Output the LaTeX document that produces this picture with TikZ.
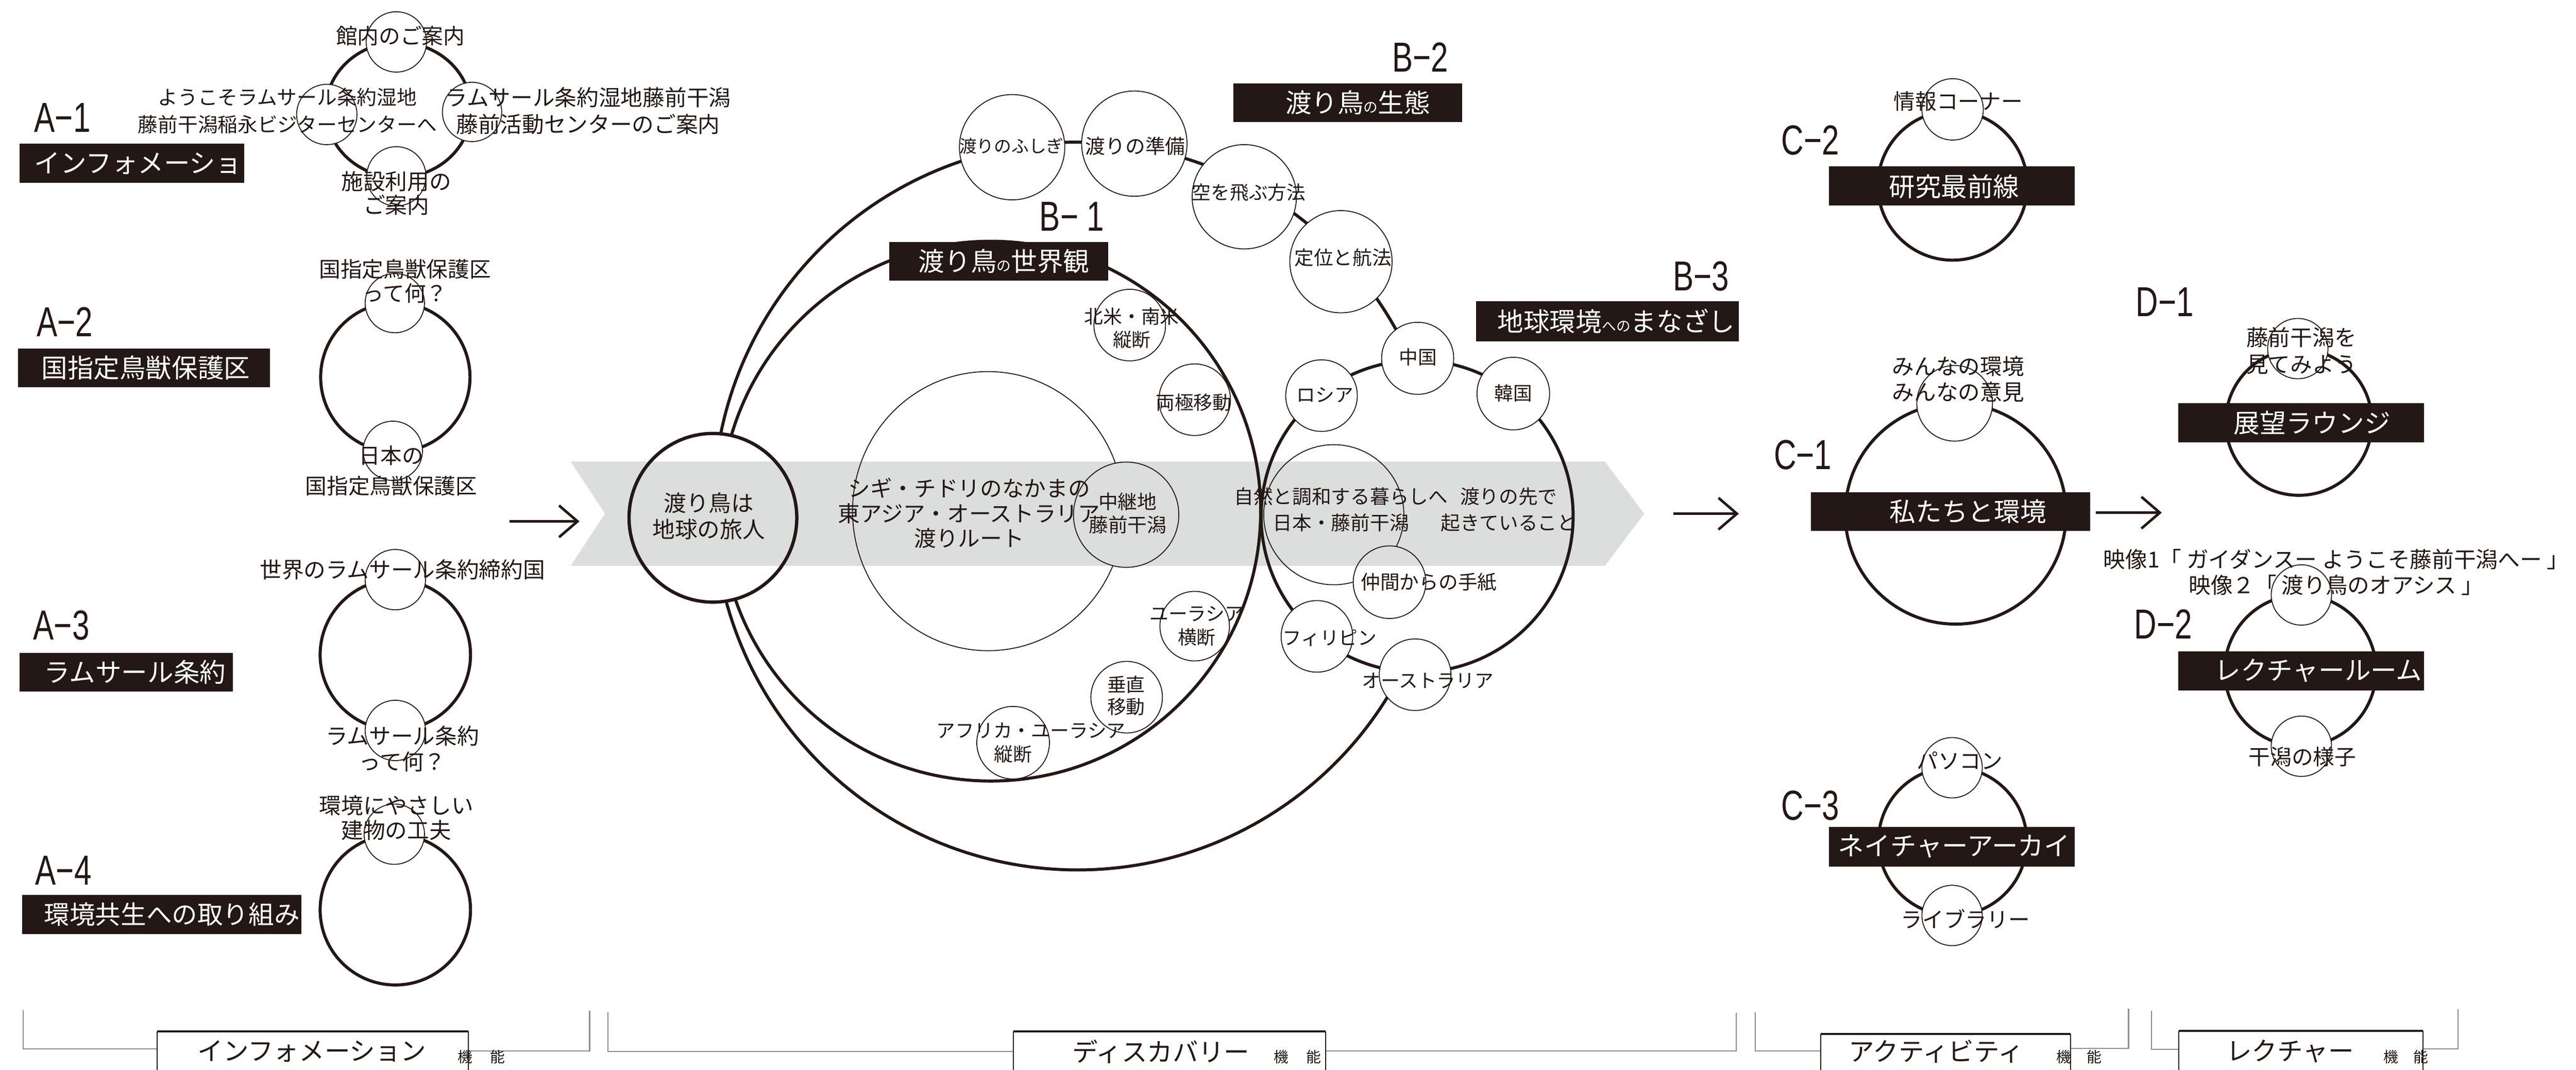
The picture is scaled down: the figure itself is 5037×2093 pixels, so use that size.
\documentclass[tikz,border=0pt]{standalone}
\usepackage{fontspec}
\setmainfont{Noto Sans CJK JP}
\newfontfamily\labelfont[FakeStretch=0.74]{Liberation Sans}
\usetikzlibrary{shapes.geometric,arrows.meta}
\definecolor{ink}{HTML}{231815}
\definecolor{bandgray}{HTML}{DCDDDD}
\definecolor{brkgray}{HTML}{8C8C8C}
\newcommand\jfs[2]{\fontsize{#1}{#2}\selectfont}
\newcommand\sno[1]{{\fontsize{28}{28}\selectfont #1}}
\tikzset{
  ring/.style={draw=ink, line width=6pt, inner sep=0pt, outer sep=0pt},
  ringline/.style={draw=ink, line width=6pt},
  sc/.style={circle, draw=ink, line width=1.8pt, fill=white, inner sep=0pt},
  thinc/.style={draw=ink, line width=1.8pt, inner sep=0pt},
  tx/.style={text=ink, align=center, inner sep=0pt},
  blk/.style={fill=ink, inner sep=0pt},
  wt/.style={text=white, font=\jfs{51}{51}, inner sep=0pt},
  lbl/.style={text=ink, font=\labelfont\fontsize{82}{82}\selectfont, inner sep=0pt},
  arr/.style={draw=ink, line width=5pt, -{Straight Barb[length=36pt,width=62pt]}},
  brk/.style={draw=brkgray, line width=2.2pt},
  fside/.style={draw=ink, line width=2pt},
  ftop/.style={draw=ink, line width=3.5pt},
}
\begin{document}
\begin{tikzpicture}[x=1pt,y=-1pt]
\useasboundingbox (0,0) rectangle (5037,2093);
\fill[white] (0,0) rectangle (5037,2093);

% ================= A column =================
\node[ring, ellipse, minimum width=284pt, minimum height=264pt] (ringA1) at (779,215) {};
\node[sc, minimum size=118pt] (cA1t) at (775,82) {};
\node[sc, minimum size=118pt] (cA1l) at (639,224) {};
\node[sc, minimum size=116pt] (cA1r) at (923,219) {};
\node[sc, minimum size=116pt] (cA1b) at (775,345) {};

\node[ring, circle, minimum size=292pt] (ringA2) at (773,738) {};
\node[sc, minimum size=116pt] (cA2t) at (772,593) {};
\node[sc, minimum size=116pt] (cA2b) at (768,882) {};

\node[ring, circle, minimum size=294pt] (ringA3) at (773,1281) {};
\node[sc, minimum size=118pt] (cA3t) at (773,1134) {};
\node[sc, minimum size=118pt] (cA3b) at (773,1429) {};

\node[ring, circle, minimum size=294pt] (ringA4) at (773,1780) {};
\node[sc, minimum size=118pt] (cA4t) at (771,1632) {};

\node[tx, font=\jfs{42}{50}] (tA1t) at (783,70) {館内のご案内};
\node[tx, font=\jfs{39}{53}] (tA1l) at (562,217) {ようこそラムサール条約湿地\\藤前干潟稲永ビジターセンターへ};
\node[tx, font=\jfs{43}{53}] (tA1r) at (1150,217) {ラムサール条約湿地藤前干潟\\藤前活動センターのご案内};
\node[tx, font=\jfs{43}{47}] (tA1b) at (775,378) {施設利用の\\ご案内};
\node[tx, font=\jfs{42}{47}] (tA2t) at (792,550) {国指定鳥獣保護区\\って何？};
\node[tx, font=\jfs{42}{60}] (tA2b) at (765,921) {日本の\\国指定鳥獣保護区};
\node[tx, font=\jfs{43}{50}] (tA3t) at (787,1115) {世界のラムサール条約締約国};
\node[tx, font=\jfs{43}{51}] (tA3b) at (787,1465) {ラムサール条約\\って何？};
\node[tx, font=\jfs{43}{49}] (tA4t) at (775,1600) {環境にやさしい\\建物の工夫};

\node[lbl] (lA1) at (122,230) {A−1};
\node[lbl] (lA2) at (127,630) {A−2};
\node[lbl] (lA3) at (120,1223) {A−3};
\node[lbl] (lA4) at (124,1703) {A−4};

\node[blk, minimum width=440pt, minimum height=77pt] (bA1) at (258,319.5) {};
\node[wt, anchor=west] (wA1) at (67,320) {インフォメーショ};
\node[blk, minimum width=493pt, minimum height=76pt] (bA2) at (281.5,720) {};
\node[wt] (wA2) at (285,720) {国指定鳥獣保護区};
\node[blk, minimum width=417pt, minimum height=76pt] (bA3) at (246.5,1315) {};
\node[wt, anchor=west] (wA3) at (86,1315) {ラムサール条約};
\node[blk, minimum width=546pt, minimum height=76pt] (bA4) at (316,1789) {};
\node[wt, anchor=west, font=\jfs{50}{50}] (wA4) at (86,1789) {環境共生への取り組み};

% ================= B section =================
\path[fill=bandgray] (1116,903) -- (3138,903) -- (3215,1005) -- (3138,1107) -- (1116,1107) -- (1183,1005) -- cycle;

\node[thinc, ellipse, minimum width=530pt, minimum height=546pt] (route) at (1932,1000) {};
\node[ring, circle, minimum size=1056pt] (ringB1) at (1937,1000) {};
\draw[ringline] plot[domain=26:337, samples=240] ({2107+712*cos(\x)},{990+712*sin(\x)});
\node[ring, circle, minimum size=610pt] (ringB3) at (2771,1010) {};

% traveller ellipse (masks rings, keeps band)
\fill[white] (1394,1013) ellipse [x radius=164, y radius=165];
\begin{scope}
  \clip (1394,1013) ellipse [x radius=164, y radius=165];
  \path[fill=bandgray] (1116,903) -- (3138,903) -- (3215,1005) -- (3138,1107) -- (1116,1107) -- (1183,1005) -- cycle;
\end{scope}
\node[ring, line width=6.5pt, ellipse, minimum width=328pt, minimum height=330pt] (tabibito) at (1394,1013) {};

\node[thinc, circle, minimum size=274pt] (shizen) at (2608,1007) {};

% B-2 circles
\node[sc, minimum size=206pt] (fushigi) at (1979,288) {};
\node[sc, minimum size=206pt] (junbi) at (2218,281) {};
\node[sc, minimum size=204pt] (sora) at (2433,385) {};
\node[sc, minimum size=200pt] (teii) at (2622,512) {};

% B-1 circles
\node[sc, minimum size=140pt] (hokubei) at (2209,636) {};
\node[sc, minimum size=140pt] (ryokyoku) at (2336,782) {};
\node[sc, minimum size=136pt] (eurasia) at (2336,1225) {};
\node[sc, minimum size=140pt] (suichoku) at (2203,1364) {};
\node[sc, minimum size=142pt] (africa) at (1981,1453) {};
\node[sc, fill=bandgray, minimum size=206pt] (chukei) at (2202,1007) {};

% B-3 circles
\node[sc, minimum size=141pt] (china) at (2772,701) {};
\node[sc, minimum size=140pt] (russia) at (2584,774) {};
\node[sc, minimum size=142pt] (korea) at (2959,770) {};
\node[sc, minimum size=140pt] (phil) at (2575,1245) {};
\node[sc, minimum size=140pt] (aus) at (2767,1320) {};
\fill[white] (2717,1139) circle (71);
\begin{scope}
  \clip (2717,1139) circle (71);
  \path[fill=bandgray] (1116,903) -- (3138,903) -- (3215,1005) -- (3138,1107) -- (1116,1107) -- (1183,1005) -- cycle;
\end{scope}
\node[thinc, circle, minimum size=142pt] (nakama) at (2717,1139) {};

% B texts
\node[tx, font=\jfs{44}{51}] (tTabi) at (1386,1010) {渡り鳥は\\地球の旅人};
\node[tx, font=\jfs{43}{49}] (tRoute) at (1895,1004) {シギ・チドリのなかまの\\東アジア・オーストラリア\\渡りルート};
\node[tx, font=\jfs{38}{46}] (tChukei) at (2205,1004) {中継地\\藤前干潟};
\node[tx, font=\jfs{37}{45}] (tHoku) at (2213,642) {北米・南米\\縦断};
\node[tx, font=\jfs{37}{45}] (tRyo) at (2334,787) {両極移動};
\node[tx, font=\jfs{37}{46}] (tEur) at (2340,1225) {ユーラシア\\横断};
\node[tx, font=\jfs{37}{43}] (tSui) at (2202,1361) {垂直\\移動};
\node[tx, font=\jfs{37}{45}] (tAfr1) at (2016,1429) {アフリカ・ユーラシア};
\node[tx, font=\jfs{37}{45}] (tAfr2) at (1981,1476) {縦断};

\node[tx, font=\jfs{34}{40}] (tFushigi) at (1978,286) {渡りのふしぎ};
\node[tx, font=\jfs{39}{40}] (tJunbi) at (2220,286) {渡りの準備};
\node[tx, font=\jfs{37}{40}] (tSora) at (2442,376) {空を飛ぶ方法};
\node[tx, font=\jfs{38}{40}] (tTeii) at (2626,504) {定位と航法};

\node[tx, font=\jfs{37}{40}] (tChina) at (2773,699) {中国};
\node[tx, font=\jfs{37}{40}] (tRussia) at (2591,773) {ロシア};
\node[tx, font=\jfs{37}{40}] (tKorea) at (2959,769) {韓国};
\node[tx, font=\jfs{37}{40}] (tPhil) at (2600,1248) {フィリピン};
\node[tx, font=\jfs{37}{40}] (tAus) at (2792,1332) {オーストラリア};
\node[tx, font=\jfs{38}{40}] (tNakama) at (2794,1139) {仲間からの手紙};
\node[tx, font=\jfs{38}{51}] (tShizen) at (2622,997) {自然と調和する暮らしへ\\日本・藤前干潟};
\node[tx, font=\jfs{38}{51}] (tSaki) at (2950,997) {渡りの先で\\起きていること};

\node[lbl] (lB1) at (2096,424) {B− 1};
\node[lbl] (lB2) at (2777,112) {B−2};
\node[lbl] (lB3) at (3326,540) {B−3};

\node[blk, minimum width=428pt, minimum height=76pt] (bB1) at (1953,511) {};
\node[wt] (wB1) at (1963,511) {渡り鳥\sno{の}世界観};
\node[blk, minimum width=447pt, minimum height=76pt] (bB2) at (2635.5,201) {};
\node[wt] (wB2) at (2655,201) {渡り鳥\sno{の}生態};
\node[blk, minimum width=514pt, minimum height=79pt] (bB3) at (3143,628.5) {};
\node[wt, anchor=west] (wB3) at (2928,628) {地球環境\sno{への}まなざし};

% ================= C column =================
\node[ring, circle, minimum size=292pt] (ringC2) at (3818,363) {};
\node[sc, minimum size=120pt] (cC2t) at (3818,214) {};
\node[ring, circle, minimum size=432pt] (ringC1) at (3824,1005) {};
\node[sc, minimum size=148pt] (cC1t) at (3822,789) {};
\node[ring, circle, minimum size=290pt] (ringC3) at (3818,1646) {};
\node[sc, minimum size=118pt] (cC3t) at (3817,1502) {};
\node[sc, minimum size=118pt] (cC3b) at (3817,1791) {};

\node[tx, font=\jfs{42}{50}] (tC2) at (3829,198) {情報コーナー};
\node[tx, font=\jfs{43}{50}] (tC1) at (3829,742) {みんなの環境\\みんなの意見};
\node[tx, font=\jfs{42}{50}] (tC3t) at (3832,1488) {パソコン};
\node[tx, font=\jfs{42}{50}] (tC3b) at (3843,1798) {ライブラリー};

\node[lbl] (lC2) at (3540,274) {C−2};
\node[lbl] (lC1) at (3525,890) {C−1};
\node[lbl] (lC3) at (3540,1576) {C−3};

\node[blk, minimum width=481pt, minimum height=77pt] (bC2) at (3816.5,363.5) {};
\node[wt] (wC2) at (3821,365) {研究最前線};
\node[blk, minimum width=546pt, minimum height=76pt] (bC1) at (3814,1001) {};
\node[wt] (wC1) at (3848,1001) {私たちと環境};
\node[blk, minimum width=481pt, minimum height=77pt] (bC3) at (3816.5,1656.5) {};
\node[wt, anchor=west] (wC3) at (3594,1656) {ネイチャーアーカイ};

% ================= D column =================
\node[ring, circle, minimum size=286pt] (ringD1) at (4495,826) {};
\node[sc, minimum size=118pt] (cD1t) at (4493,682) {};
\node[ring, circle, minimum size=296pt] (ringD2) at (4498,1312) {};
\node[sc, minimum size=118pt] (cD2t) at (4500,1164) {};
\node[sc, minimum size=118pt] (cD2b) at (4500,1460) {};

\node[tx, font=\jfs{43}{52}] (tD1) at (4500,686) {藤前干潟を\\見てみよう};
\node[tx, font=\jfs{43}{51}] (tD2) at (4568,1119.5) {映像1「 ガイダンスー ようこそ藤前干潟へー 」\\映像２「 渡り鳥のオアシス 」};
\node[tx, font=\jfs{42}{50}] (tD2b) at (4502,1481) {干潟の様子};

\node[lbl] (lD1) at (4233,591) {D−1};
\node[lbl] (lD2) at (4230,1221) {D−2};

\node[blk, minimum width=481pt, minimum height=76pt] (bD1) at (4499.5,827) {};
\node[wt] (wD1) at (4521,827) {展望ラウンジ};
\node[blk, minimum width=481pt, minimum height=77pt] (bD2) at (4499.5,1312.5) {};
\node[wt, anchor=west] (wD2) at (4330,1312) {レクチャールーム};

% ================= arrows =================
\coordinate (arAs) at (996,1020);
\coordinate (arAe) at (1133,1020);
\coordinate (arBs) at (3272,1005);
\coordinate (arBe) at (3400,1005);
\coordinate (arCs) at (4098,1003);
\coordinate (arCe) at (4227,1003);
\draw[arr] (arAs) -- (arAe);
\draw[arr] (arBs) -- (arBe);
\draw[arr] (arCs) -- (arCe);

% ================= bottom function brackets =================
\draw[brk] (45,1976) -- (45,2052) -- (307,2052);
\draw[brk] (916,2056) -- (1153,2056) -- (1153,1978);
\draw[fside] (307,2100) -- (307,2018);
\draw[fside] (916,2018) -- (916,2100);
\draw[ftop] (307,2018) -- (916,2018);
\node[tx, font=\jfs{50}{50}] (fInfo) at (610,2057) {インフォメーション};
\node[tx, font=\jfs{29}{29}, anchor=west] (kInfo) at (895,2068) {機\hspace{34pt}能};

\draw[brk] (1189,1981) -- (1189,2057) -- (1982,2057);
\draw[brk] (2592,2056) -- (3395,2056) -- (3395,1982);
\draw[fside] (1982,2100) -- (1982,2018);
\draw[fside] (2592,2018) -- (2592,2100);
\draw[ftop] (1982,2018) -- (2592,2018);
\node[tx, font=\jfs{50}{50}] (fDisc) at (2270,2057) {ディスカバリー};
\node[tx, font=\jfs{29}{29}, anchor=west] (kDisc) at (2491,2068) {機\hspace{34pt}能};

\draw[brk] (3432,1981) -- (3432,2056) -- (3560,2056);
\draw[brk] (4049,2051) -- (4162,2051) -- (4162,1973);
\draw[fside] (3560,2100) -- (3560,2023);
\draw[fside] (4049,2023) -- (4049,2100);
\draw[ftop] (3560,2023) -- (4049,2023);
\node[tx, font=\jfs{50}{50}] (fAct) at (3786,2057) {アクティビティ};
\node[tx, font=\jfs{29}{29}, anchor=west] (kAct) at (4021,2068) {機\hspace{30pt}能};

\draw[brk] (4207,1977) -- (4207,2053) -- (4260,2053);
\draw[brk] (4738,2052) -- (4806,2052) -- (4806,1974);
\draw[fside] (4260,2100) -- (4260,2017);
\draw[fside] (4738,2017) -- (4738,2100);
\draw[ftop] (4260,2017) -- (4738,2017);
\node[tx, font=\jfs{50}{50}] (fLec) at (4478,2057) {レクチャー};
\node[tx, font=\jfs{29}{29}, anchor=west] (kLec) at (4660,2068) {機\hspace{30pt}能};
\end{tikzpicture}
\end{document}
